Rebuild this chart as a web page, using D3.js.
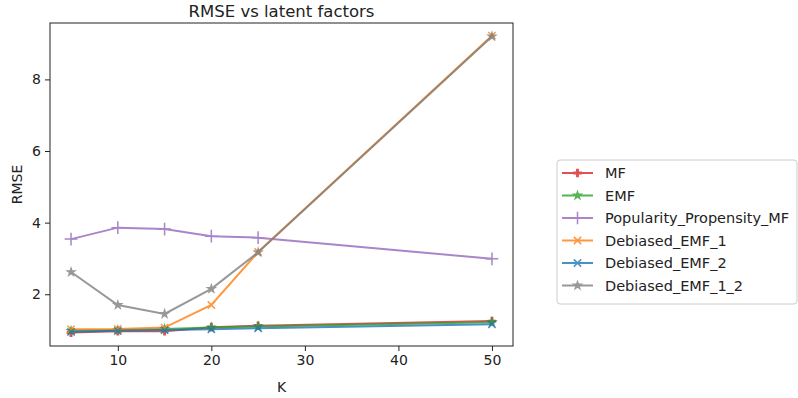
<!DOCTYPE html>
<html>
<head>
<meta charset="utf-8">
<script src="https://cdn.jsdelivr.net/npm/d3@7"></script>
<style>
  body { margin: 0; background: #fff; }
  text { font-family: "DejaVu Sans", sans-serif; fill: #222; }
</style>
</head>
<body>
<div id="chart"></div>
<script>
// data
const kValues = [5, 10, 15, 20, 25, 50];
const mf = [0.93, 0.97, 0.97, 1.08, 1.12, 1.25];
const emf = [0.98, 1.0, 1.03, 1.07, 1.10, 1.22];
const popularity = [3.54, 3.86, 3.82, 3.62, 3.58, 2.99];
const debiased1 = [1.02, 1.03, 1.07, 1.70, 3.18, 9.22];
const debiased2 = [0.95, 0.98, 1.00, 1.02, 1.05, 1.16];
const debiased12 = [2.62, 1.70, 1.45, 2.15, 3.17, 9.20];
const xTicks = [10, 20, 30, 40, 50];
const yTicks = [2, 4, 6, 8];

const series = [
  {name: "MF", values: mf, color: "#d62728", marker: "P"},
  {name: "EMF", values: emf, color: "#2ca02c", marker: "*"},
  {name: "Popularity_Propensity_MF", values: popularity, color: "#9467bd", marker: "+"},
  {name: "Debiased_EMF_1", values: debiased1, color: "#ff7f0e", marker: "x"},
  {name: "Debiased_EMF_2", values: debiased2, color: "#1f77b4", marker: "x"},
  {name: "Debiased_EMF_1_2", values: debiased12, color: "#7f7f7f", marker: "*"}
];

const W = 798, H = 398;
const margin = {top: 23, right: 285, bottom: 52, left: 50};
const width = W - margin.left - margin.right,
      height = H - margin.top - margin.bottom;

const svg = d3.select("#chart").append("svg")
  .attr("width", W).attr("height", H);

const g = svg.append("g")
  .attr("transform", `translate(${margin.left},${margin.top})`);

const x = d3.scaleLinear().domain([2.75, 52.25]).range([0, width]);
const y = d3.scaleLinear().domain([0.555, 9.575]).range([height, 0]);

// axes
const xAxis = g.append("g")
  .attr("transform", `translate(0,${height})`)
  .call(d3.axisBottom(x).tickValues(xTicks).tickSize(5).tickPadding(4));
const yAxis = g.append("g")
  .call(d3.axisLeft(y).tickValues(yTicks).tickSize(5).tickPadding(4));
[xAxis, yAxis].forEach(a => {
  a.select(".domain").remove();
  a.selectAll("line").attr("stroke", "#222").attr("stroke-width", 1);
  a.selectAll("text").style("font-size", "14px").style("font-family", "DejaVu Sans");
});

// frame
g.append("rect")
  .attr("width", width).attr("height", height)
  .attr("fill", "none").attr("stroke", "#222").attr("stroke-width", 1);

function markerPath(m) {
  if (m === "P") return d3.symbol(d3.symbolCross, 42)();
  if (m === "*") return d3.symbol(d3.symbolStar, 42)();
  if (m === "+") return d3.symbol(d3.symbolPlus, 55)();
  return d3.symbol(d3.symbolX, 36)();
}
function styleMarker(sel, s) {
  if (s.marker === "+" || s.marker === "x") {
    sel.attr("fill", "none").attr("stroke", s.color).attr("stroke-width", 1.5);
  } else {
    sel.attr("fill", s.color).attr("stroke", "none");
  }
}

const line = d3.line()
  .x((d, i) => x(kValues[i]))
  .y(d => y(d));

series.forEach(s => {
  const sg = g.append("g").attr("opacity", 0.8);
  sg.append("path")
    .datum(s.values)
    .attr("d", line)
    .attr("fill", "none")
    .attr("stroke", s.color)
    .attr("stroke-width", 2);
  sg.selectAll("path.mk")
    .data(s.values)
    .join("path")
    .attr("class", "mk")
    .attr("d", markerPath(s.marker))
    .attr("transform", (d, i) => `translate(${x(kValues[i])},${y(d)})`)
    .call(styleMarker, s);
});

// title and labels
svg.append("text")
  .attr("x", margin.left + width / 2).attr("y", 17)
  .attr("text-anchor", "middle")
  .style("font-size", "16.5px")
  .text("RMSE vs latent factors");
svg.append("text")
  .attr("x", margin.left + width / 2).attr("y", 392)
  .attr("text-anchor", "middle")
  .style("font-size", "14px")
  .text("K");
svg.append("text")
  .attr("transform", `translate(22,${margin.top + height / 2}) rotate(-90)`)
  .attr("text-anchor", "middle")
  .style("font-size", "14px")
  .text("RMSE");

// legend
const legend = svg.append("g").attr("transform", "translate(557,160)");
legend.append("rect")
  .attr("width", 240).attr("height", 144).attr("rx", 3)
  .attr("fill", "#fff").attr("stroke", "#ccc");
series.forEach((s, i) => {
  const ly = 13 + i * 22.5;
  const item = legend.append("g").attr("transform", `translate(0,${ly})`);
  const ig = item.append("g").attr("opacity", 0.8);
  ig.append("line")
    .attr("x1", 5).attr("x2", 36).attr("y1", 0).attr("y2", 0)
    .attr("stroke", s.color).attr("stroke-width", 2);
  ig.append("path")
    .attr("d", markerPath(s.marker))
    .attr("transform", "translate(20.5,0)")
    .call(styleMarker, s);
  item.append("text")
    .attr("x", 48).attr("y", 0).attr("dy", "0.35em")
    .style("font-size", "14.5px")
    .text(s.name);
});
</script>
</body>
</html>
